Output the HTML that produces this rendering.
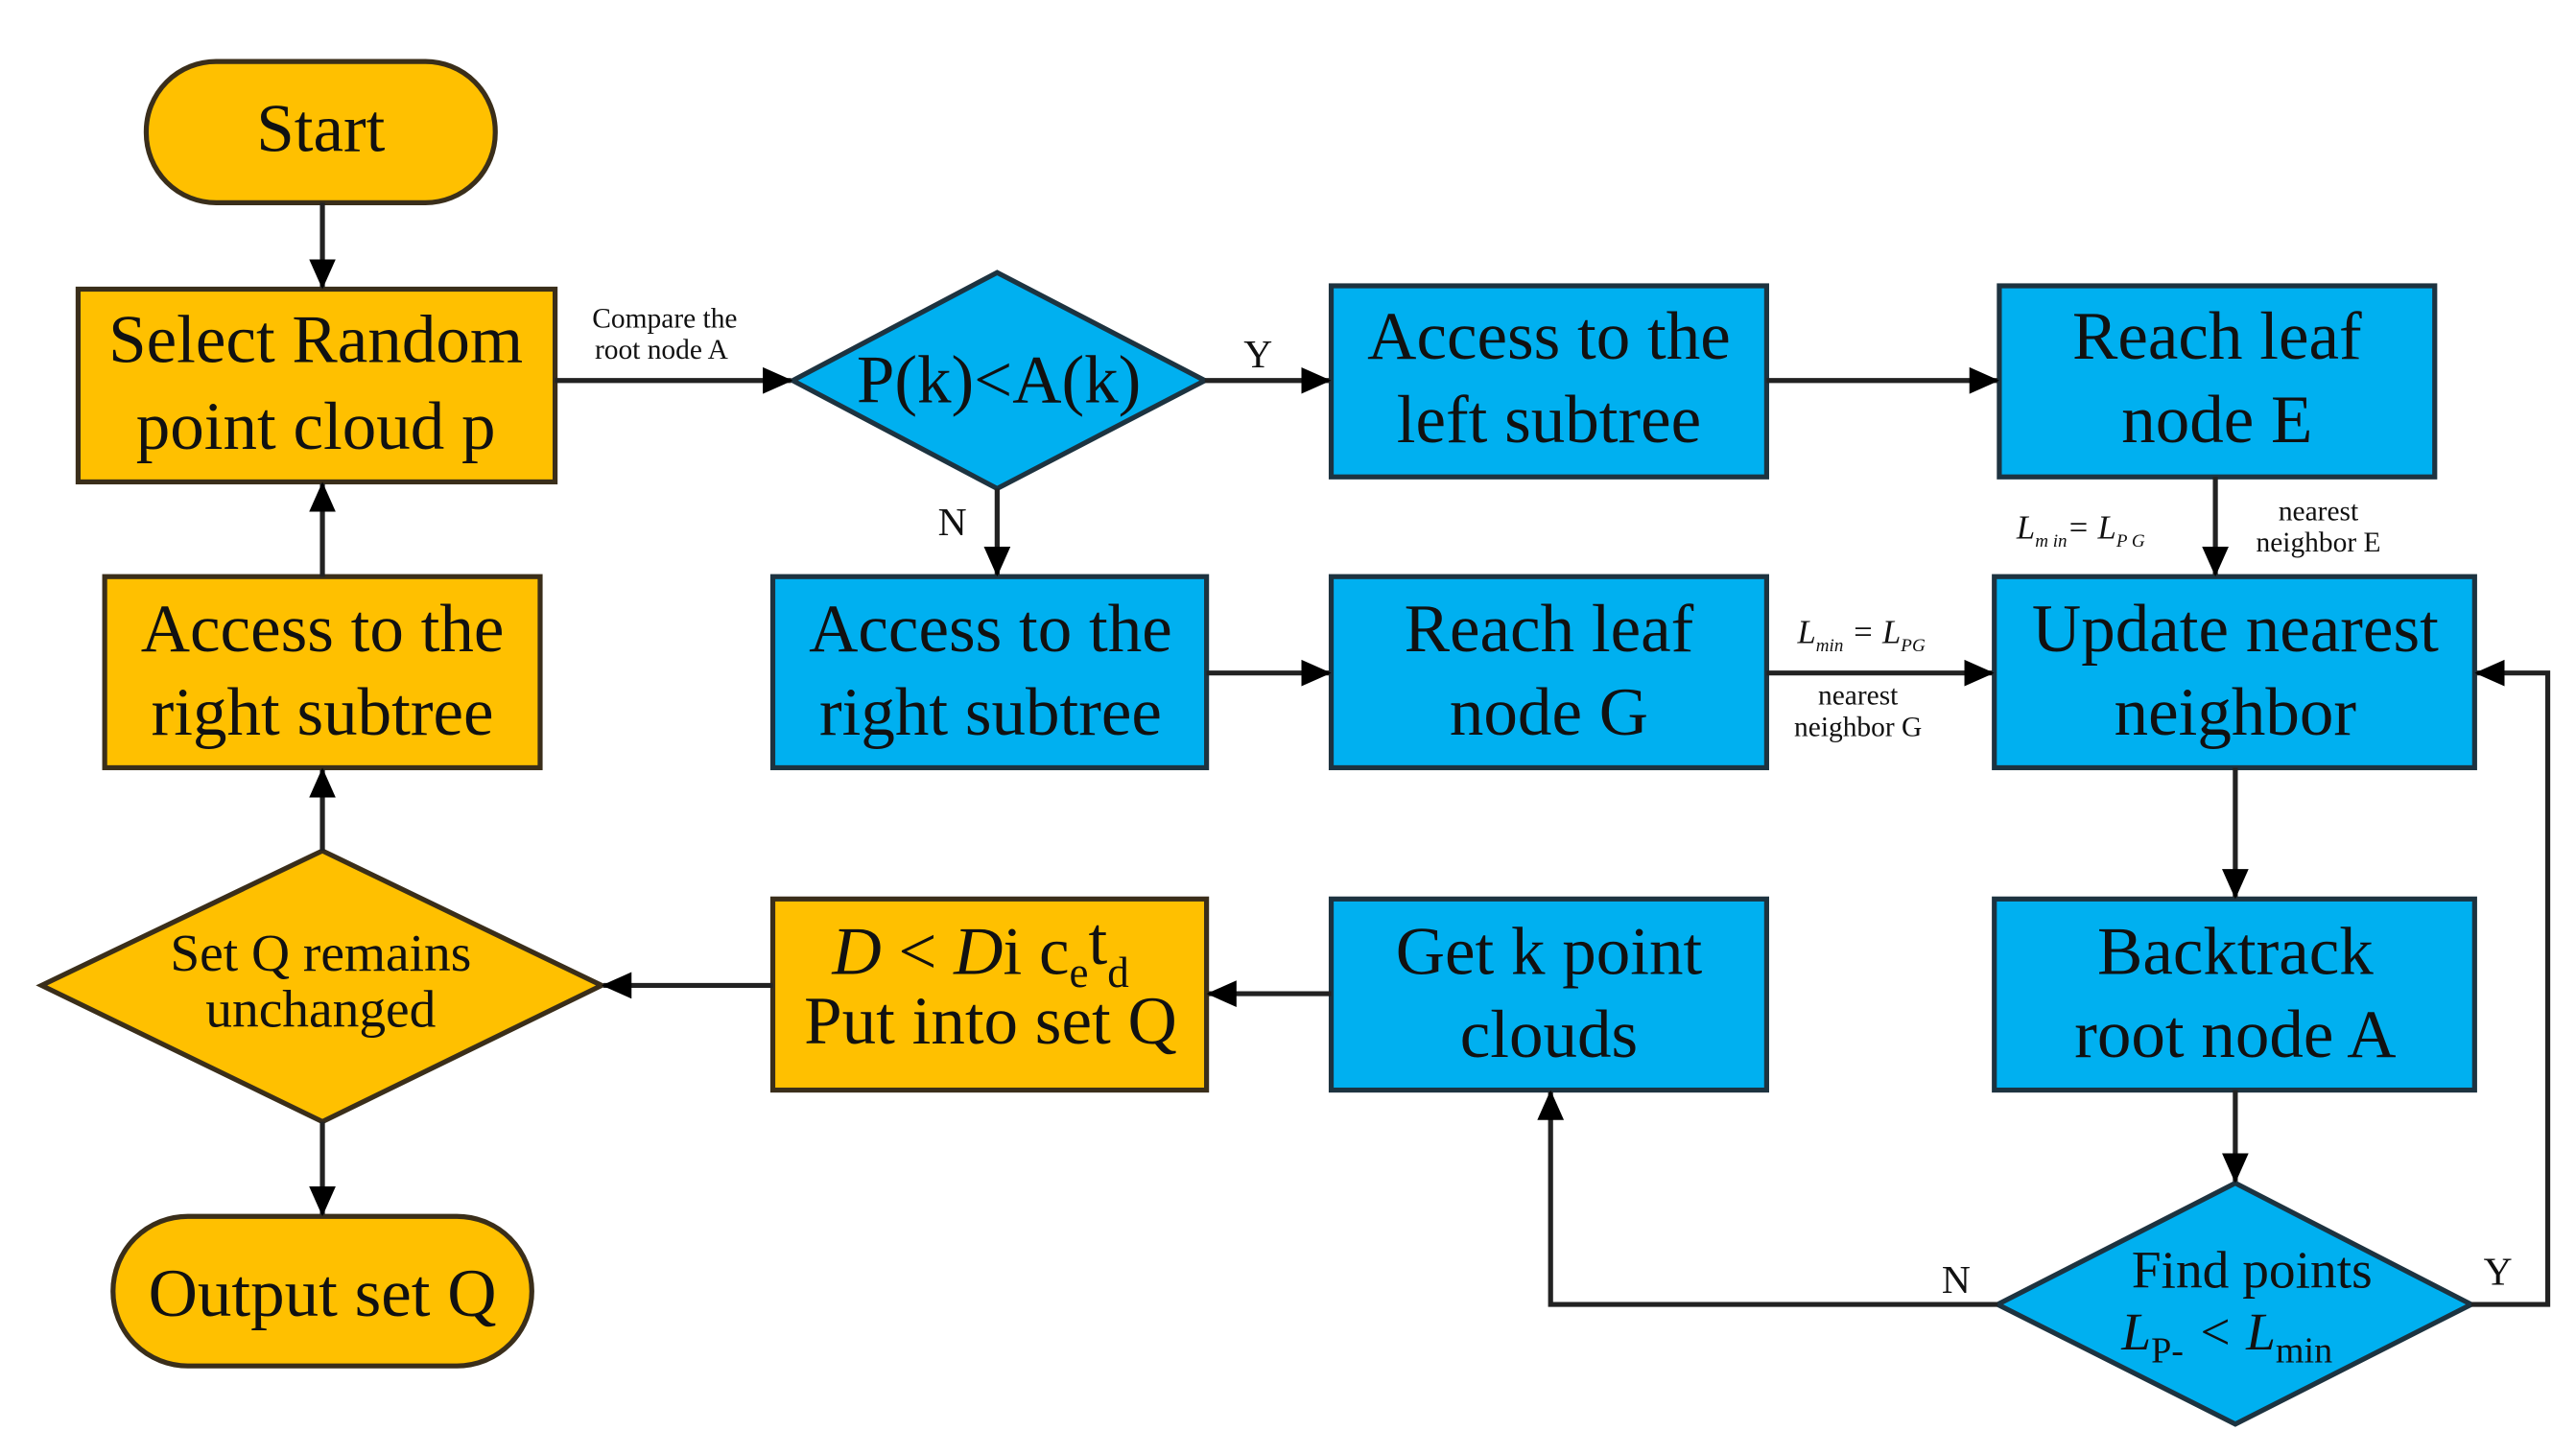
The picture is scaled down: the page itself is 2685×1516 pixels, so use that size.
<!DOCTYPE html>
<html><head><meta charset="utf-8"><style>
html,body{margin:0;padding:0;background:#fff;}
svg{display:block;}
text{font-family:"Liberation Serif",serif;fill:#111;}
</style></head><body>
<svg width="2685" height="1516" viewBox="0 0 1550 875" preserveAspectRatio="none" xmlns="http://www.w3.org/2000/svg">
<defs>
<marker id="b" markerWidth="18" markerHeight="18" refX="17" refY="9" orient="auto" markerUnits="userSpaceOnUse" viewBox="0 0 18 18">
<path d="M0,1 L18,9 L0,17 z" fill="#000"/></marker>
</defs>
<g stroke="#3a2e1a" stroke-width="3">
<rect x="88" y="37" width="210" height="85" rx="42" fill="#FFC000"/>
<rect x="47" y="174" width="287" height="116" fill="#FFC000"/>
<rect x="63" y="347" width="262" height="115" fill="#FFC000"/>
<polygon points="25,593 194,512 362,593 194,675" fill="#FFC000"/>
<rect x="68" y="732" width="252" height="90" rx="45" fill="#FFC000"/>
<rect x="465" y="541" width="261" height="115" fill="#FFC000"/>
</g>
<g stroke="#1d3340" stroke-width="3" fill="#00B0F0">
<polygon points="477,229 600,164 725,229 600,294"/>
<rect x="801" y="172" width="262" height="115"/>
<rect x="1203" y="172" width="262" height="115"/>
<rect x="465" y="347" width="261" height="115"/>
<rect x="801" y="347" width="262" height="115"/>
<rect x="1200" y="347" width="289" height="115"/>
<rect x="801" y="541" width="262" height="115"/>
<rect x="1200" y="541" width="289" height="115"/>
<polygon points="1202,785 1345,712 1487,785 1345,857"/>
</g>
<g stroke="#222" stroke-width="3" fill="none" marker-end="url(#b)">
<line x1="194" y1="122" x2="194" y2="173"/>
<line x1="334" y1="229" x2="476" y2="229"/>
<line x1="725" y1="229" x2="800" y2="229"/>
<line x1="1063" y1="229" x2="1202" y2="229"/>
<line x1="1333" y1="287" x2="1333" y2="346"/>
<line x1="600" y1="294" x2="600" y2="346"/>
<line x1="726" y1="405" x2="800" y2="405"/>
<line x1="1063" y1="405" x2="1199" y2="405"/>
<line x1="1345" y1="462" x2="1345" y2="540"/>
<line x1="1345" y1="656" x2="1345" y2="711"/>
<polyline points="1487,785 1533,785 1533,405 1490,405"/>
<polyline points="1202,785 933,785 933,657"/>
<line x1="801" y1="598" x2="727" y2="598"/>
<line x1="465" y1="593" x2="363" y2="593"/>
<line x1="194" y1="512" x2="194" y2="463"/>
<line x1="194" y1="347" x2="194" y2="291"/>
<line x1="194" y1="675" x2="194" y2="731"/>
</g>
<g font-size="41" text-anchor="middle">
<text x="193" y="91">Start</text>
<text x="190" y="218">Select Random</text>
<text x="190" y="270">point cloud p</text>
<text x="601" y="242">P(k)&lt;A(k)</text>
<text x="932" y="216">Access to the</text>
<text x="932" y="266">left subtree</text>
<text x="1334" y="216">Reach leaf</text>
<text x="1334" y="266">node E</text>
<text x="194" y="392">Access to the</text>
<text x="194" y="442">right subtree</text>
<text x="596" y="392">Access to the</text>
<text x="596" y="442">right subtree</text>
<text x="932" y="392">Reach leaf</text>
<text x="932" y="442">node G</text>
<text x="1345" y="392">Update nearest</text>
<text x="1345" y="442">neighbor</text>
<text x="932" y="586">Get k point</text>
<text x="932" y="636">clouds</text>
<text x="1345" y="586">Backtrack</text>
<text x="1345" y="636">root node A</text>
<text x="590" y="586"><tspan font-style="italic">D</tspan> &lt; <tspan font-style="italic">D</tspan>i c<tspan font-size="26" dy="8">e</tspan><tspan dy="-14">t</tspan><tspan font-size="26" dy="14">d</tspan></text>
<text x="596" y="628">Put into set Q</text>
<text x="194" y="792">Output set Q</text>
</g>
<g font-size="32" text-anchor="middle">
<text x="193" y="584">Set Q remains</text>
<text x="193" y="618">unchanged</text>
<text x="1355" y="775">Find points</text>
<text x="1340" y="812" font-style="italic">L<tspan font-size="22" font-style="normal" dy="8">P-</tspan><tspan dy="-8"> &lt; L</tspan><tspan font-size="22" font-style="normal" dy="8">min</tspan></text>
</g>
<g font-size="24" text-anchor="middle">
<text x="757" y="221">Y</text>
<text x="573" y="322">N</text>
<text x="1503" y="773">Y</text>
<text x="1177" y="778">N</text>
</g>
<g font-size="17" text-anchor="middle" fill="#222">
<text x="400" y="197">Compare the</text>
<text x="398" y="216">root node A</text>
<text x="1395" y="313">nearest</text>
<text x="1395" y="332">neighbor E</text>
<text x="1118" y="424">nearest</text>
<text x="1118" y="443">neighbor G</text>
<text x="1252" y="324" font-style="italic" font-size="20">L<tspan font-size="11" dy="5">m in</tspan><tspan dy="-5">= L</tspan><tspan font-size="11" dy="5">P G</tspan></text>
<text x="1120" y="387" font-style="italic" font-size="20">L<tspan font-size="11" dy="5">min</tspan><tspan dy="-5"> = L</tspan><tspan font-size="11" dy="5">PG</tspan></text>
</g>
</svg>
</body></html>
